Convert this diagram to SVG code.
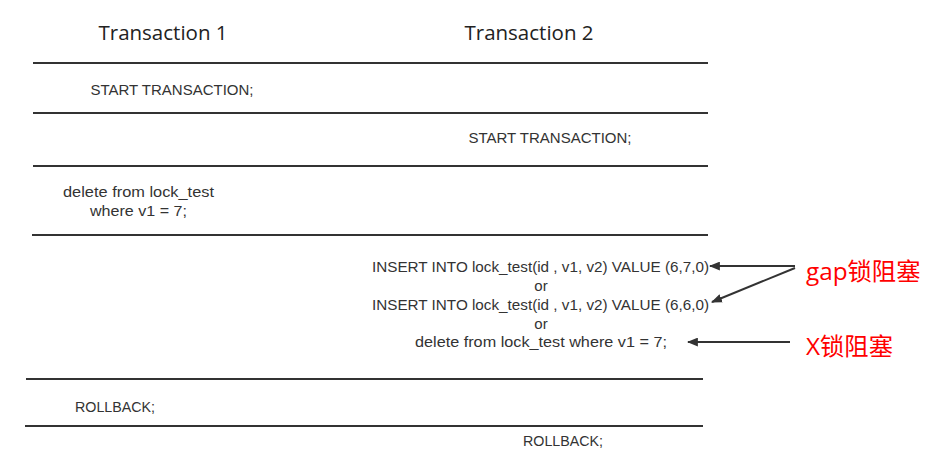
<svg xmlns="http://www.w3.org/2000/svg" width="928" height="462" viewBox="0 0 928 462">
<defs>
<style>
.t{font-family:"Liberation Sans",Arial,sans-serif;font-size:15px;fill:#333}
.h{font-family:"Open Sans","Noto Sans",sans-serif;font-size:20.5px;fill:#222}
.r{font-family:"Open Sans","Noto Sans CJK SC",sans-serif;font-size:24.3px;fill:#f00}
.l{stroke:#333;stroke-width:2}
.a{stroke:#333;stroke-width:2;fill:none;marker-end:url(#ah)}
</style>
<marker id="ah" viewBox="0 0 10 8" refX="9" refY="4" markerWidth="11" markerHeight="9" orient="auto" markerUnits="userSpaceOnUse">
<path d="M0,0L10,4L0,8z" fill="#333"/>
</marker>
</defs>
<rect width="928" height="462" fill="#fff"/>
<g id="headers">
<text class="h" x="163" y="40" text-anchor="middle">Transaction 1</text>
<text class="h" x="529" y="40" text-anchor="middle">Transaction 2</text>
</g>
<g id="rows">
<line class="l" x1="33" y1="63" x2="708" y2="63"/>
<line class="l" x1="33" y1="113" x2="708" y2="113"/>
<line class="l" x1="33" y1="166" x2="708" y2="166"/>
<line class="l" x1="32" y1="235" x2="708" y2="235"/>
<line class="l" x1="26" y1="379" x2="703" y2="379"/>
<line class="l" x1="25" y1="426" x2="703" y2="426"/>
</g>
<g id="step1"><text class="t" x="172" y="95" text-anchor="middle">START TRANSACTION;</text></g>
<g id="step2"><text class="t" x="550" y="143" text-anchor="middle">START TRANSACTION;</text></g>
<g id="step3">
<text class="t" x="63" y="197" textLength="151" lengthAdjust="spacingAndGlyphs">delete from lock_test</text>
<text class="t" x="90" y="216" textLength="97" lengthAdjust="spacingAndGlyphs">where v1 = 7;</text>
</g>
<g id="step4">
<text class="t" x="372" y="272" textLength="337" lengthAdjust="spacingAndGlyphs">INSERT INTO lock_test(id , v1, v2) VALUE (6,7,0)</text>
<text class="t" x="541" y="291" text-anchor="middle">or</text>
<text class="t" x="372" y="310" textLength="337" lengthAdjust="spacingAndGlyphs">INSERT INTO lock_test(id , v1, v2) VALUE (6,6,0)</text>
<text class="t" x="541" y="329" text-anchor="middle">or</text>
<text class="t" x="415" y="347" textLength="252" lengthAdjust="spacingAndGlyphs">delete from lock_test where v1 = 7;</text>
</g>
<g id="step5"><text class="t" x="75" y="412" textLength="80" lengthAdjust="spacingAndGlyphs">ROLLBACK;</text></g>
<g id="step6"><text class="t" x="523" y="446" textLength="80" lengthAdjust="spacingAndGlyphs">ROLLBACK;</text></g>
<g id="gap-label"><text class="r" x="806" y="280">gap锁阻塞</text></g>
<g id="x-label"><text class="r" x="806" y="355">X锁阻塞</text></g>
<g id="connectors">
<line class="a" x1="795" y1="266" x2="710" y2="266"/>
<line class="a" x1="795" y1="268" x2="712" y2="302"/>
<line class="a" x1="790" y1="342" x2="688" y2="342"/>
</g>
</svg>
